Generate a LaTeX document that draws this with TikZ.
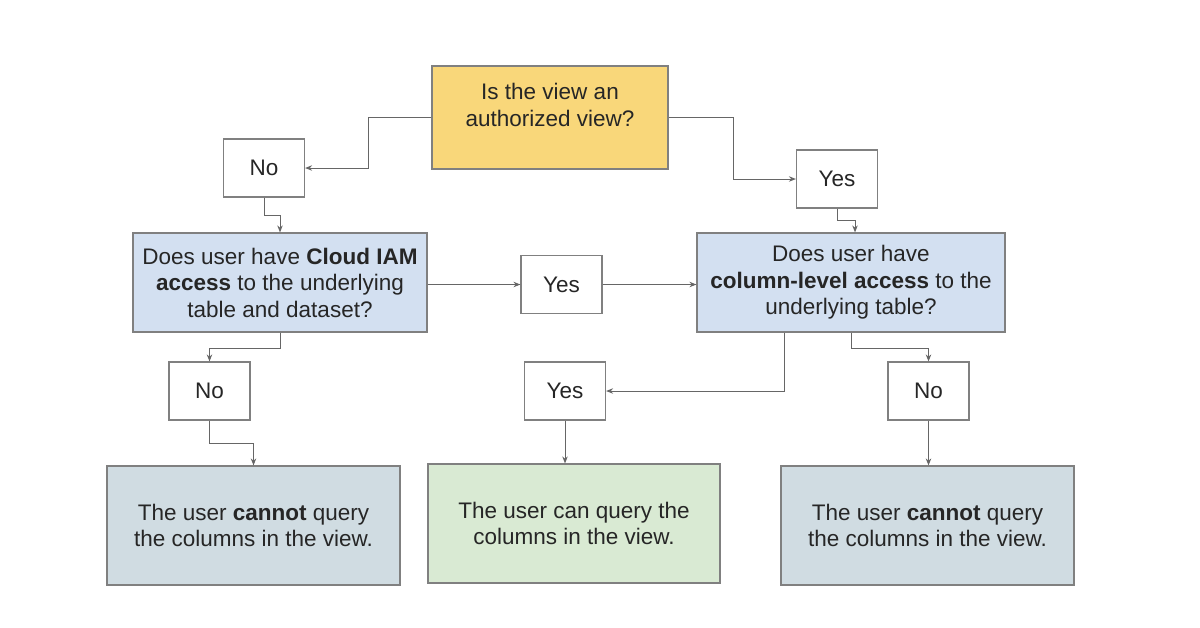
\documentclass[tikz,border=0pt]{standalone}
\usepackage{fontspec}
\setmainfont{Liberation Sans}
\usetikzlibrary{arrows.meta}
\definecolor{gold}{HTML}{F9D77A}
\definecolor{lblue}{HTML}{D3E0F1}
\definecolor{lgray}{HTML}{D0DCE2}
\definecolor{lgreen}{HTML}{D9EAD3}
\definecolor{edge}{HTML}{808080}
\definecolor{wire}{HTML}{666666}
\begin{document}
\begin{tikzpicture}[x=1pt,y=-1pt,
  box/.style={draw=edge,line width=1.2pt,rectangle,inner sep=0pt,align=center,
    font=\fontsize{22.5}{26.5}\selectfont,text=black!85},
  ans/.style={box,fill=white,minimum width=81pt,minimum height=58pt},
  arr/.style={draw=wire,line width=1pt,-{Stealth[length=7pt,width=5.5pt]}},
  txt/.style={align=center,font=\fontsize{22.5}{26.5}\selectfont,text=black!85,inner sep=0pt}]
\useasboundingbox (0,0) rectangle (1200,627);
% top question
\node[box,fill=gold,minimum width=236pt,minimum height=103pt] (top) at (550,117.5) {};
\node[txt] (toptxt) at (550,105) {Is the view an\\authorized view?};
% answers
\node[ans] (no1) at (264,168) {No};
\node[ans] (yes1) at (837,179) {Yes};
% second level
\node[box,fill=lblue,minimum width=294pt,minimum height=99pt] (cloud) at (280,282.5)
  {Does user have \textbf{Cloud IAM}\\\textbf{access} to the underlying\\table and dataset?};
\node[ans] (yes2) at (561.5,284.5) {Yes};
\node[box,fill=lblue,minimum width=308pt,minimum height=99pt] (col) at (851,282.5)
  {Does user have\\\textbf{column-level access} to the\\underlying table?};
% third level answers
\node[ans] (no2) at (209.5,391) {No};
\node[ans] (yes3) at (565,391) {Yes};
\node[ans] (no3) at (928.5,391) {No};
% results
\node[box,fill=lgray,minimum width=293pt,minimum height=119pt] (bl) at (253.5,525.5)
  {The user \textbf{cannot} query\\the columns in the view.};
\node[box,fill=lgreen,minimum width=292pt,minimum height=119pt] (bm) at (574,523.5)
  {The user can query the\\columns in the view.};
\node[box,fill=lgray,minimum width=293pt,minimum height=119pt] (br) at (927.5,525.5)
  {The user \textbf{cannot} query\\the columns in the view.};
% connectors
\draw[arr] (top.west) -- ++(-63,0) |- (no1.east);
\draw[arr] (top.east) -- ++(65,0) |- (yes1.west);
\draw[arr] (no1.south) -- ++(0,18) -| (cloud.north);
\draw[arr] (yes1.south) -- ++(0,12) -| ([xshift=4pt]col.north);
\draw[arr] (cloud.east |- yes2.west) -- (yes2.west);
\draw[arr] (yes2.east) -- (col.west |- yes2.east);
\draw[arr] ([xshift=-67pt]col.south) |- (yes3.east);
\draw[arr] (col.south) -- ++(0,16) -| (no3.north);
\draw[arr] (cloud.south) -- ++(0,16) -| (no2.north);
\draw[arr] (no2.south) -- ++(0,23) -| (bl.north);
\draw[arr] (yes3.south) -- (yes3.south |- bm.north);
\draw[arr] (no3.south) -- (no3.south |- br.north);
\end{tikzpicture}
\end{document}
